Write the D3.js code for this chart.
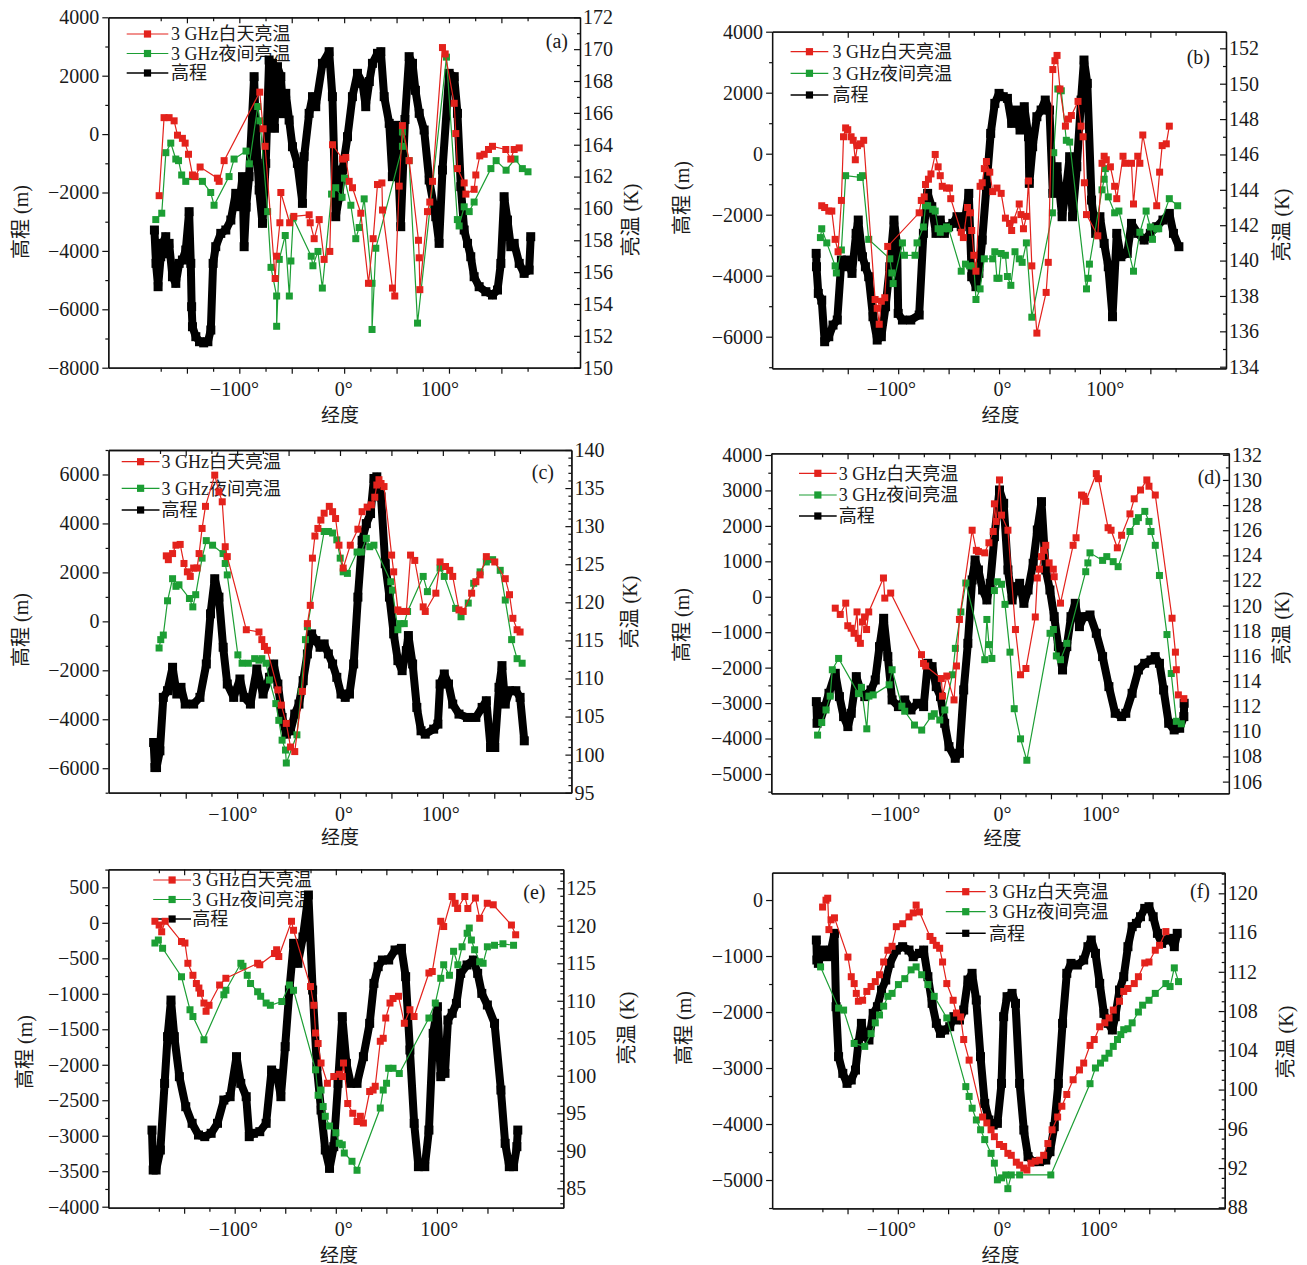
<!DOCTYPE html>
<html><head><meta charset="utf-8">
<script src="https://cdn.jsdelivr.net/npm/d3@7"></script>
<style>
body{margin:0;background:#fff}
svg text{font-family:"Liberation Serif","Noto Sans CJK SC",serif;fill:#1a1a1a}
</style>
</head><body>
<svg id="chart" width="1307" height="1265"></svg>
<script>
// ---------------- DATA ----------------
const seriesNames = ["3 GHz白天亮温", "3 GHz夜间亮温", "高程"];
const panelTags = ["(a)", "(b)", "(c)", "(d)", "(e)", "(f)"];
const lonTicks = [-175,-150,-125,-100,-75,-50,-25,0,25,50,75,100,125,150,175];
const lonLabels = [-100, 0, 100];

// (a)
const aDay = [[-176.5,160.8],[-171.8,165.7],[-167,165.7],[-162.2,165.5],[-159,164.6],[-154.3,164.4],[-151.7,164.1],[-148.5,163.4],[-144.7,162.1],[-142.2,162.0],[-137.4,162.6],[-120.9,161.9],[-119.3,161.7],[-114.5,163.0],[-80.5,167.3],[-77.3,165.0],[-75.4,163.9],[-65.8,155.6],[-64.5,157.0],[-61.3,159.1],[-60.4,161.0],[-52,159.1],[-48,159.5],[-33.4,159.6],[-32.4,159.1],[-28.6,158.1],[-23.8,159.3],[-19.1,156.8],[-13.7,157.3],[-11.1,164.0],[-1.6,163.1],[1.6,163.2],[4.8,161.7],[7.95,161.3],[15.9,159.7],[23.2,155.3],[27.7,158.1],[31.8,161.5],[36,161.6],[36.6,159.9],[46.1,155.0],[48.3,154.5],[52.5,161.4],[55.6,165.2],[62,163.0],[70.9,158.0],[71.6,156.9],[72.2,154.9],[79.5,159.8],[81.7,160.4],[84.3,161.7],[93.8,170.1],[96.4,169.7],[105,166.6],[106.5,164.7],[108.1,162.5],[114.5,161.6],[116.1,160.9],[124,161.2],[125.6,162.1],[129.4,163.3],[133.6,163.4],[137.7,163.7],[141.5,163.9],[154.2,163.7],[159,163.1],[162.2,163.7],[167,163.8]];
const aNight = [[-179.7,159.3],[-174,159.7],[-170.1,163.5],[-165.4,164.1],[-160.6,163.1],[-158,163.0],[-155,162.1],[-151.1,161.7],[-144.7,162.0],[-135.2,161.7],[-127.3,161.0],[-124.1,160.2],[-109.8,162.0],[-105,163.1],[-93.6,163.6],[-90.4,162.8],[-82.5,166.4],[-80.3,165.5],[-73,159.8],[-69.8,156.3],[-64.4,154.5],[-64.4,152.6],[-61.9,156.8],[-56.2,158.3],[-52.3,154.5],[-50.8,156.7],[-48.6,159.4],[-31.4,157.0],[-29.8,156.4],[-25,157.3],[-20.8,155.0],[-12,160.9],[-8,161.3],[-2,160.7],[0.3,161.9],[6.4,160.2],[11.1,158.1],[14.3,158.8],[19.1,160.6],[26.6,155.3],[26.6,152.4],[30.2,157.5],[55.6,163.9],[55.6,164.8],[62,163.0],[70,152.8],[97.6,169.5],[108,159.3],[109.7,158.9],[114.5,160.1],[119.3,159.8],[124,160.4],[140,162.5],[145,163.0],[154.5,162.4],[163,163.1],[170,162.5],[175.4,162.3]];
const aElev = [[-181,-3285],[-179.5,-4427],[-177.5,-5226],[-175,-4200],[-173.3,-3742],[-170.2,-3513],[-168.5,-4100],[-167,-3742],[-163.8,-4884],[-160.6,-5112],[-157.4,-4427],[-154.3,-4313],[-151.1,-3970],[-147.9,-2657],[-146.3,-4427],[-145.5,-5911],[-144.7,-6596],[-141.5,-6938],[-138,-7110],[-134,-7150],[-130,-7110],[-127.2,-6710],[-125,-4427],[-122.5,-3856],[-117.7,-3400],[-112.9,-3285],[-108.1,-2943],[-103.4,-2029],[-100.2,-2486],[-97,-1458],[-95.4,-3856],[-93.5,-2500],[-90.7,-1458],[-85.9,1967],[-84.3,140],[-81.1,-1915],[-77.9,-3057],[-74.8,-1002],[-71.6,2538],[-68.4,2423],[-66.5,200],[-63.6,2309],[-60.4,1967],[-58,700],[-55.7,1396],[-52.5,482],[-49.3,-431],[-44.6,-1002],[-39.8,-2372],[-38.2,-774],[-33.4,711],[-30.2,1282],[-27.1,939],[-20.7,2423],[-14.3,2823],[-11.2,1282],[-8,-2829],[-4.8,-2144],[-1.6,-1230],[3.2,-88],[7.9,1282],[12.7,2081],[17.5,1738],[20.6,939],[24,1800],[27,2423],[31.8,2766],[35,2823],[38.2,1282],[43,368],[46,-1458],[49,300],[52,-1458],[54,-3171],[58,500],[62,2652],[65.2,2423],[68,1500],[71.6,711],[76.3,140],[81.1,-1572],[87.4,-2829],[90.6,-3742],[93.8,-1230],[100.2,2081],[105,1967],[108.1,711],[111.3,-1801],[114.5,-3285],[117.7,-3742],[120.8,-4199],[124,-4884],[128.8,-5226],[135.2,-5397],[141.5,-5512],[146.3,-5340],[149.5,-4427],[152.6,-2144],[155.8,-2943],[159,-3856],[162.2,-3742],[167,-4427],[171.7,-4770],[176.5,-4656],[178,-3513]];

// (b)
const bDay = [[-175.8,143.1],[-172.9,143.0],[-168.8,142.8],[-165.8,142.8],[-162.5,141.2],[-159.6,140.5],[-156.3,143.4],[-154.2,147.0],[-152.1,147.5],[-150,147.4],[-146.7,147.0],[-144.6,146.8],[-142.5,145.7],[-140.4,146.5],[-137.5,146.6],[-134.2,146.8],[-122.9,137.8],[-120.8,137.3],[-118.8,136.4],[-116.7,137.7],[-113.3,137.9],[-110.4,140.8],[-79.2,142.7],[-77.1,143.4],[-74.2,143.6],[-72.9,144.3],[-70,144.6],[-67.5,144.9],[-63.3,146.0],[-60.4,145.3],[-58.3,144.8],[-56.3,144.2],[-52.1,144.1],[-49.2,144.1],[-47.9,143.5],[-37.5,141.6],[-35.4,141.3],[-31.3,143.0],[-28.3,142.7],[-27.1,141.7],[-25,140.3],[-22.9,139.4],[-18.8,144.2],[-16.7,144.4],[-14.6,145.2],[-12.5,145.6],[-9.2,145.0],[-6.3,143.9],[-2.1,144.1],[2.1,143.8],[6.3,142.4],[10.4,142.1],[12.5,141.7],[14.6,142.3],[20,143.2],[21.7,142.6],[24.2,141.8],[27.1,142.5],[29.2,144.5],[32.5,139.7],[37.5,135.9],[46.7,138.2],[48.8,139.9],[53.3,150.8],[55.4,151.3],[57.5,151.6],[60.4,149.7],[65.8,147.6],[68.8,148.0],[71.7,148.2],[78.3,149.0],[81.3,147.6],[83.3,147.0],[84.6,144.4],[86.7,142.6],[97.9,141.4],[102.1,145.5],[104.2,145.9],[106.3,145.7],[110.4,145.3],[114.6,144.2],[116.7,143.5],[122.9,145.9],[125,145.5],[131.3,145.5],[133.3,143.2],[137.5,145.9],[139.6,145.5],[142.5,147.1],[156.3,143.1],[159.2,145.0],[161.7,146.5],[165.8,146.6],[168.8,147.6]];
const bNight = [[-177.1,141.3],[-175.8,141.8],[-170.8,141.0],[-162.5,139.7],[-161.3,139.3],[-156.3,140.6],[-152.1,144.8],[-137.5,144.7],[-135.4,144.8],[-129.2,141.2],[-108.3,140.1],[-106.3,139.3],[-105,138.7],[-95.8,141.0],[-93.8,140.3],[-83.3,140.3],[-81.3,141.0],[-75,141.9],[-72.9,143.1],[-70.8,143.1],[-65.8,142.9],[-63.3,142.8],[-60.4,141.8],[-58.3,141.6],[-55,141.8],[-52.1,141.9],[-50,141.8],[-37.5,139.4],[-33.3,139.8],[-29.2,139.7],[-25,139.7],[-22.9,137.8],[-18.8,138.4],[-14.6,140.1],[-6.3,140.1],[-4.2,140.5],[-2.1,139.0],[0,139.0],[2.1,140.4],[6.3,140.3],[8.3,139.1],[11.7,138.6],[15.8,140.5],[20,140.1],[22.9,139.9],[27.1,141.0],[32.5,136.8],[52.9,142.7],[54.2,146.1],[58.3,149.7],[61.7,149.6],[66.7,146.8],[70,146.7],[86.7,138.4],[88.3,139.0],[89.6,139.8],[102.1,144.0],[104.2,144.6],[105.4,145.2],[108.3,143.6],[114.6,142.7],[118.8,142.8],[133.3,139.4],[139.6,141.6],[145.8,142.8],[150,141.9],[152.1,141.2],[156.3,141.8],[158.3,141.8],[168.8,143.5],[177.1,143.1]];
const bElev = [[-181.3,-3268],[-181,-3706],[-179.2,-4580],[-175.8,-4799],[-172.9,-6165],[-168.8,-6001],[-164.6,-5618],[-160.4,-5454],[-156.3,-3487],[-152.1,-3706],[-150,-3487],[-145.8,-3924],[-141.7,-2612],[-139.6,-2175],[-135.4,-3378],[-132.5,-3706],[-129.2,-4033],[-125,-5345],[-120.8,-6110],[-116.7,-6001],[-112.5,-5017],[-108.3,-3706],[-104.2,-2175],[-101,-3000],[-100,-5236],[-95.8,-5454],[-87.5,-5454],[-79.2,-5290],[-75,-2612],[-70.8,-1301],[-66.7,-1738],[-62.5,-2612],[-58.3,-2175],[-54.2,-2612],[-50,-2394],[-45.8,-2284],[-41.7,-2066],[-37.5,-2394],[-33.3,-2066],[-30,-1301],[-27.1,-4033],[-22.9,-4361],[-20,-3924],[-16.7,-2831],[-12.5,-1082],[-8.3,666],[-4.2,1650],[0,1978],[4.2,1869],[8.3,1814],[12.5,994],[16.7,1431],[20.8,776],[25,1541],[29.2,557],[30,-973],[33.3,229],[37.5,1213],[41.7,1431],[45.8,1759],[50,1431],[53.3,-1301],[57.5,-427],[62.5,-2066],[66.7,-1082],[70,-99],[72.9,-2066],[77.1,-427],[81.3,1759],[84.2,3071],[87.5,2306],[91.7,-1520],[95.8,-2612],[100,-2066],[104.2,-2940],[108.3,-3706],[112.5,-5345],[116.7,-2612],[120.8,-3378],[127.1,-3268],[131.3,-2284],[137.5,-2612],[143.8,-2831],[150,-2612],[156.3,-2394],[162.5,-2175],[168.8,-1957],[172.9,-2612],[178.3,-3050]];

// (c)
const cDay = [[-168.9,126.1],[-166.9,125.6],[-162.8,126.4],[-159.5,127.5],[-155.4,127.6],[-151.7,125.1],[-148.4,124.0],[-145.6,123.4],[-142.3,124.5],[-139,124.5],[-137,126.4],[-134.1,129.7],[-130.8,132.6],[-121.8,136.7],[-117.7,134.5],[-114.5,133.2],[-111.6,127.3],[-109.6,126.0],[-91.1,116.4],[-78.8,116.1],[-76,115.1],[-73.5,114.2],[-70.6,113.7],[-60.4,108.5],[-57.1,106.5],[-52.2,104.1],[-48.1,101.0],[-44,100.4],[-36.6,108.3],[-31.7,117.2],[-28.9,119.6],[-26.8,125.8],[-24.4,128.7],[-21.5,129.7],[-18.6,130.8],[-15.4,131.7],[-10.4,132.6],[-7.2,131.9],[-4.3,131.0],[-1,127.5],[3.1,124.5],[10,127.5],[17.4,129.6],[21.5,131.9],[26.4,132.5],[30.5,132.8],[33.8,133.8],[35.8,135.4],[37.9,136.1],[39.9,135.6],[42.8,135.2],[50.2,126.2],[52.2,124.0],[56.3,119.0],[58.4,118.8],[64.5,118.8],[68.6,126.2],[72.7,125.5],[80.9,119.4],[82.9,118.8],[93.2,121.2],[97.3,125.3],[102.6,124.7],[106.7,124.2],[109.6,123.4],[115.7,119.0],[119.8,118.8],[128,121.2],[132.1,122.7],[136.2,123.6],[142.3,126.0],[150.5,125.3],[160.7,123.1],[164.8,121.0],[168.1,117.9],[172.2,116.4],[175.1,116.1]];
const cNight = [[-175.9,114.0],[-174.3,115.1],[-171.8,115.7],[-167.7,120.2],[-162.8,123.1],[-159.5,122.1],[-156.6,122.3],[-146.4,120.5],[-143.1,119.4],[-140.3,121.0],[-134.1,125.8],[-130,128.1],[-123.9,127.5],[-113.7,126.4],[-111.6,125.1],[-109.6,123.6],[-99.3,113.1],[-95.2,112.0],[-89.1,112.0],[-83,112.6],[-78.8,112.4],[-76,112.6],[-71.9,112.0],[-68.6,109.8],[-62.4,106.7],[-59.5,104.5],[-56.3,101.9],[-53,100.6],[-52.2,98.9],[-41.9,102.6],[-37.8,108.3],[-33.6,115.1],[-31.7,116.8],[-15.4,129.3],[-11.3,129.3],[-7.2,129.1],[-3.1,128.2],[0.2,125.8],[3.1,124.0],[7.2,123.8],[16.6,126.6],[20.7,126.6],[25.6,128.4],[28.9,127.3],[33,127.5],[49.4,122.7],[51,121.6],[56.3,116.4],[58.4,117.2],[62.5,117.2],[65.7,118.8],[80.9,123.4],[85,121.4],[97.3,124.5],[101.4,123.4],[112.4,119.2],[117.7,118.1],[124.7,119.9],[130,122.5],[136.2,124.0],[142.3,125.3],[148.4,125.6],[155.8,124.2],[160.7,120.3],[166.9,115.1],[172.2,112.6],[177.1,112.0]];
const cElev = [[-181.2,-4949],[-180,-5973],[-178.4,-5973],[-175.1,-5290],[-171.8,-3106],[-167.7,-2833],[-162.8,-1877],[-158.7,-2969],[-154.6,-2696],[-150.5,-3379],[-142.3,-3379],[-136.2,-3106],[-130,-1741],[-125.9,307],[-121.8,1741],[-117.7,990],[-113.6,-1058],[-109.6,-2560],[-103.4,-3106],[-97.3,-2355],[-93.2,-3106],[-87.1,-3379],[-80.9,-1945],[-74.8,-2969],[-68.6,-2287],[-64.5,-1741],[-60.4,-2560],[-56.3,-3925],[-52.2,-4608],[-48.1,-4471],[-44,-3789],[-39.9,-3379],[-35.8,-2423],[-31.7,-1331],[-27.6,-512],[-23.5,-785],[-19.4,-1058],[-15.4,-922],[-11.3,-1331],[-7.2,-1741],[-3.1,-2287],[1,-2969],[5.1,-3106],[9.2,-2969],[13.3,-1741],[17.4,990],[21.5,3311],[25.6,3993],[29.7,4403],[33,5836],[35.8,5904],[39.9,5085],[44,2355],[48.1,990],[52.2,-512],[56.3,-1604],[60.4,-2014],[64.5,-1194],[66.5,-580],[70.6,-1741],[74.7,-3516],[78.8,-4471],[82.9,-4608],[91.1,-4403],[95.2,-4198],[97.3,-2560],[101.4,-2150],[105.5,-2560],[109.6,-3379],[115.7,-3789],[123.9,-3925],[132.1,-3925],[138.2,-3516],[142.3,-3243],[146.4,-5153],[150.5,-5153],[154.6,-2696],[157.5,-1809],[160.7,-3379],[164.8,-2833],[171,-2833],[175.1,-3106],[179.2,-4881]];

// (d)
const dDay = [[-162.1,119.8],[-157.2,119.3],[-151.8,120.2],[-149.8,118.4],[-146.5,118.2],[-143.6,117.8],[-140.7,119.5],[-139.5,117.4],[-137.4,117.0],[-135.4,118.7],[-133.3,119.1],[-131.3,118.1],[-129.2,119.5],[-114.7,122.2],[-113.4,120.6],[-107.6,121.0],[-77.3,116.1],[-75.3,115.4],[-73.2,115.2],[-57.8,114.2],[-56.6,112.8],[-52.4,114.4],[-45.3,112.5],[-42.9,115.2],[-40,118.9],[-27.5,126.0],[-23.4,124.4],[-21.3,124.3],[-15.1,124.2],[-11,125.0],[-6.8,125.9],[-5.6,128.1],[-3.9,126.7],[-0.6,130.0],[1.4,127.2],[7.7,126.0],[15.1,118.1],[20.1,114.5],[25.4,115.0],[34.6,119.1],[36.6,122.2],[38.7,122.9],[40.7,123.9],[42.8,124.4],[44.9,124.8],[48.2,123.4],[52.3,122.9],[53.2,122.3],[59.4,120.2],[71.8,124.8],[74.7,125.4],[80.1,128.8],[82.2,128.7],[84.2,128.3],[94.6,130.5],[96.7,130.1],[106.2,126.2],[109.1,126.0],[115.3,124.6],[119.5,125.6],[127.7,127.3],[131.9,128.5],[138.1,129.2],[144.3,130.0],[146.4,129.5],[152.6,128.8],[169.1,119.0],[172.4,116.3],[173.3,114.9],[175.3,112.9],[180.7,112.6]];
const dNight = [[-179.5,109.7],[-175.4,110.7],[-171.2,111.7],[-167.1,112.8],[-165,114.9],[-158.8,115.8],[-139.3,113.0],[-136.4,113.5],[-131.1,110.2],[-129,112.8],[-124.8,112.9],[-109.1,113.7],[-106.2,114.9],[-96.6,112.0],[-93.8,111.6],[-84.2,110.5],[-77.1,110.1],[-67.6,111.2],[-64.7,111.4],[-59.3,110.9],[-54.4,111.7],[-46.9,114.5],[-44,116.6],[-38.6,119.5],[-33.7,121.8],[-15.1,115.7],[-13,118.9],[-10.9,116.9],[-8.1,115.8],[-5.6,121.2],[-2.7,121.9],[1.4,121.7],[4.8,120.1],[9.7,116.3],[13.9,111.8],[20.1,109.4],[26.3,107.7],[49.1,117.8],[52.4,118.1],[55.3,116.0],[59.4,115.7],[65.6,117.0],[84.2,122.7],[86.3,123.4],[88.4,124.2],[100.8,123.6],[104.9,123.9],[111.2,123.5],[116.1,123.1],[127.7,125.9],[133.9,126.7],[136,127.0],[142.3,127.5],[146.4,126.7],[148.4,125.9],[152.6,124.8],[156.7,122.4],[164.1,117.7],[168.3,114.6],[173.3,110.8],[178.2,110.6]];
const dElev = [[-180.7,-2959],[-180,-3570],[-176.6,-3476],[-172.4,-3100],[-168.3,-2724],[-162.1,-2160],[-158,-2818],[-153.9,-3382],[-149.7,-3664],[-146.4,-3288],[-141.4,-2254],[-137.3,-2630],[-133.1,-2818],[-126.9,-2630],[-122.8,-2348],[-118.6,-1407],[-114.5,-608],[-110.4,-1689],[-106.2,-2912],[-100,-3100],[-93.8,-2912],[-87.6,-3194],[-81.4,-3006],[-75.2,-3100],[-71.1,-1878],[-66.9,-1972],[-62.8,-2536],[-58.6,-2818],[-54.5,-3570],[-50.3,-4229],[-44.1,-4558],[-40,-4417],[-35.8,-2630],[-31.7,-1313],[-27.5,474],[-24.6,1038],[-21.3,756],[-17.2,191],[-13,-91],[-9.7,380],[-5.6,1696],[-0.6,3013],[3.5,2637],[7.7,756],[11.8,-91],[15.9,285],[19.2,380],[23.4,-185],[27.5,191],[32.5,944],[36.6,1884],[40.7,2684],[44.9,756],[49,191],[53.2,-561],[57.3,-1407],[61.4,-2066],[65.6,-1407],[69.7,-561],[73.9,-185],[78,-843],[82.2,-561],[88.4,-514],[94.6,-1031],[100.8,-1689],[107,-2536],[113.2,-3288],[119.5,-3382],[123.6,-3288],[129.8,-2724],[136,-2066],[142.2,-1878],[148.4,-1784],[152.5,-1689],[156.7,-1878],[160.8,-2630],[165.8,-3570],[171.2,-3758],[176.6,-3711],[180.7,-3382],[181,-3006]];

// (e)
const eDay = [[-178.9,120.6],[-174.7,120.1],[-172.2,119.2],[-168.8,120.6],[-152.6,117.9],[-149.2,117.7],[-146.3,115.0],[-141.3,113.4],[-137.9,112.3],[-135.4,111.7],[-133.8,111.0],[-130.4,109.7],[-128.3,108.6],[-125.4,109.4],[-114.9,112.1],[-108.7,113.0],[-77.3,115.0],[-75.2,114.8],[-60.6,116.3],[-58.5,116.8],[-56.4,115.9],[-43.8,120.6],[-41.8,119.4],[-25,111.9],[-21.7,109.4],[-20,105.7],[-17.5,104.3],[-14.6,101.7],[-8.3,99.0],[-2,99.9],[3.4,100.2],[6.4,99.9],[7.6,101.7],[11.8,96.3],[16.8,95.0],[21,93.9],[24.3,94.6],[27.3,93.7],[33.5,97.9],[36.9,98.1],[39,98.6],[44,104.6],[46.9,105.0],[49.4,107.7],[53.6,109.7],[56.6,110.3],[62,110.6],[67.8,107.0],[73.3,108.8],[77.4,107.9],[92.1,113.7],[95.4,113.9],[103.8,120.6],[106.7,119.9],[115.1,123.9],[118,123.0],[120.5,122.3],[127.6,123.9],[130.6,122.3],[138.1,123.7],[142.3,121.0],[149.8,123.0],[155.7,122.8],[173.7,120.1],[177.9,118.8]];
const eNight = [[-178.9,117.7],[-175.5,118.1],[-171.3,117.0],[-152.6,113.2],[-144.2,108.8],[-141.3,107.9],[-130.4,104.8],[-110.7,110.8],[-108.7,111.4],[-93.9,115.0],[-91.8,114.6],[-87.6,113.4],[-84.3,112.3],[-77.3,111.2],[-74.3,110.6],[-68.9,109.7],[-64.7,109.4],[-53.4,109.9],[-45.9,112.1],[-41.8,111.4],[-20,100.8],[-17.5,97.4],[-14.6,98.1],[-12.5,95.9],[-10.4,94.6],[-6.2,93.3],[0.1,92.4],[3.4,91.0],[6.4,90.8],[8.4,89.7],[16,88.6],[21,87.4],[44,95.7],[46.9,98.1],[50.2,99.0],[52.3,101.0],[56.6,101.0],[62.8,100.3],[92.1,107.7],[98.4,109.7],[103.8,113.0],[106.7,114.8],[112.4,113.4],[116.5,116.6],[120.7,114.8],[124.9,117.2],[129.9,119.0],[132,119.7],[134.1,118.1],[137.3,116.8],[142.3,115.2],[145.7,115.0],[149.9,117.2],[157,117.4],[165.3,117.6],[175.8,117.4]];
const eElev = [[-181.8,-2920],[-180.6,-3483],[-177.7,-3483],[-173.5,-3201],[-169.3,-2262],[-166.4,-1604],[-163,-1088],[-159.7,-1604],[-154.7,-2168],[-148.4,-2591],[-142.1,-2825],[-135.8,-2990],[-129.6,-3013],[-123.3,-2966],[-117,-2825],[-110.7,-2497],[-104.5,-2450],[-98.2,-1886],[-94,-2262],[-88.6,-2450],[-85.6,-3013],[-81.5,-2966],[-75.2,-2943],[-68.9,-2825],[-63.5,-2074],[-58.5,-2121],[-54.3,-2450],[-50.1,-1745],[-45.9,-947],[-41.7,-289],[-37.5,-571],[-32.5,-200],[-27.1,392],[-22.9,-947],[-18.7,-2027],[-14.6,-2638],[-10.4,-3201],[-6.2,-3460],[-2,-3154],[2.2,-2262],[6.4,-1322],[10.5,-1980],[14.7,-2262],[21,-2262],[27.3,-1886],[33.5,-1416],[37.7,-853],[41.9,-618],[46.1,-524],[52.3,-524],[58.6,-383],[64.9,-360],[69.1,-759],[73.3,-1792],[77.5,-2825],[81.7,-3436],[88,-3436],[92.1,-2920],[96.3,-1557],[100.5,-1182],[103.8,-2168],[108,-2121],[110.9,-1369],[115.1,-1275],[119.3,-1135],[123.5,-712],[129.8,-594],[136.1,-524],[140.3,-712],[144.4,-994],[149.9,-1158],[157,-1416],[163.3,-2356],[167.5,-3107],[171.6,-3436],[175.8,-3436],[179.1,-3154],[180,-2920]];

// (f)
const fDay = [[-174.8,118.6],[-171.4,119.3],[-169.7,119.5],[-168.5,116.3],[-166.4,117.3],[-163,117.5],[-149.6,113.5],[-146.3,111.5],[-143.4,110.8],[-141.3,109.8],[-139.2,109.0],[-135,109.1],[-130.8,110.0],[-126.6,110.5],[-122.4,111.0],[-118.2,111.7],[-114.1,113.0],[-109.9,114.2],[-105.7,114.6],[-101.5,116.6],[-95.2,116.9],[-88.9,117.6],[-84.7,118.0],[-81.8,118.8],[-78.5,118.1],[-68,115.6],[-65.1,115.2],[-61.7,114.7],[-58.4,114.4],[-55.5,113.0],[-51.3,110.8],[-45,109.1],[-41.7,107.8],[-37.5,107.4],[-34.5,105.1],[-29.1,103.0],[-15.7,97.2],[-11.5,96.6],[-7.3,95.9],[-4,95.2],[1,94.4],[5.2,94.2],[9.4,93.5],[12.8,93.3],[17.8,92.6],[21.1,92.3],[25.3,92.0],[28.3,91.8],[32.4,92.5],[36.6,92.7],[40.8,92.8],[45,93.3],[49.2,94.5],[53.4,95.9],[58.9,97.2],[63.1,98.3],[68,99.5],[74.3,101.0],[80.6,102.0],[84.8,102.7],[91.1,104.5],[95.3,105.1],[100.7,106.4],[105.8,106.8],[110,107.3],[114.2,108.1],[120.4,109.0],[124.6,110.0],[128.8,110.3],[135.1,110.8],[139.2,111.5],[145.5,112.9],[149.7,113.0],[156,114.2],[160.2,114.7],[166.5,116.1]];
const fNight = [[-176.8,112.5],[-158.9,108.3],[-153.9,108.1],[-143.4,104.7],[-132.9,104.4],[-126.6,105.7],[-122.4,106.8],[-118.2,107.6],[-114.1,108.5],[-109.9,109.5],[-105.7,109.8],[-99.4,110.7],[-93.1,111.3],[-86.8,112.2],[-81.8,112.5],[-76.3,111.7],[-70.1,110.7],[-63.8,109.5],[-51.3,107.3],[-32.4,100.3],[-29.1,99.3],[-26.1,98.1],[-21.9,96.9],[-17.7,95.9],[-13.6,94.9],[-7.3,93.5],[-4,92.5],[-1,90.8],[3.1,91.0],[7.3,91.3],[9.4,89.9],[12.8,91.3],[21.1,91.3],[52.1,91.3],[91.1,100.6],[96.5,102.2],[101.5,102.7],[105.8,103.2],[110,103.7],[114.2,104.4],[118.4,105.1],[121.7,105.6],[124.6,106.1],[128.8,106.2],[133,106.8],[139.2,107.9],[143.4,108.6],[149.7,109.1],[156,109.8],[166.5,110.8],[170.7,110.5],[174.9,112.4],[179.1,111.0]];
const fElev = [[-181,-714],[-180.5,-1071],[-179,-1131],[-174.8,-893],[-170.6,-1012],[-166.4,-893],[-163,-595],[-161.4,-1905],[-158.9,-2797],[-154.7,-3095],[-150.5,-3274],[-146.3,-3214],[-142.1,-3036],[-139.2,-2559],[-136.2,-2202],[-132.9,-2440],[-128.7,-2500],[-124.5,-2024],[-120.3,-1905],[-116.2,-1607],[-112,-1428],[-107.8,-1131],[-101.5,-893],[-95.2,-833],[-88.9,-893],[-84.7,-1012],[-78.5,-952],[-74.3,-893],[-70.1,-1369],[-65.9,-1845],[-61.7,-2202],[-57.6,-2381],[-53.4,-2321],[-48.4,-2262],[-44.2,-2083],[-38.7,-2143],[-34.5,-1964],[-30.3,-1428],[-26.2,-1309],[-22,-1786],[-17.8,-2797],[-13.6,-3631],[-9.4,-3928],[-5.2,-4018],[-1,-3988],[3.1,-3274],[5.2,-2083],[8.6,-1726],[13.6,-1667],[17,-1845],[21.1,-3274],[25.3,-4107],[29.5,-4583],[34.5,-4672],[40.8,-4672],[47.1,-4643],[51.3,-4494],[55.5,-4047],[59.6,-3274],[63.8,-2202],[68,-1309],[72.2,-1131],[78.5,-1161],[84.8,-1071],[89,-833],[92.3,-714],[96.5,-952],[100.7,-1488],[104.9,-2024],[109.1,-2202],[113.3,-2321],[116.2,-2083],[120.4,-1607],[124.6,-1369],[128.8,-833],[133,-476],[137.2,-417],[141.3,-298],[145.5,-149],[149.7,-119],[153.9,-298],[158.1,-595],[162.3,-774],[166.5,-714],[170.7,-684],[174.9,-833],[177.8,-595]];

// tick values
const aElevTicks = [-8000,-6000,-4000,-2000,0,2000,4000];
const bElevTicks = [-6000,-4000,-2000,0,2000,4000];
const cElevTicks = [-6000,-4000,-2000,0,2000,4000,6000];
const dElevTicks = [-5000,-4000,-3000,-2000,-1000,0,1000,2000,3000,4000];
const eElevTicks = [-4000,-3500,-3000,-2500,-2000,-1500,-1000,-500,0,500];
const fElevTicks = [-5000,-4000,-3000,-2000,-1000,0];
const aTbTicks = [150,152,154,156,158,160,162,164,166,168,170,172];
const bTbTicks = [134,136,138,140,142,144,146,148,150,152];
const cTbTicks = [95,100,105,110,115,120,125,130,135,140];
const dTbTicks = [106,108,110,112,114,116,118,120,122,124,126,128,130,132];
const eTbTicks = [85,90,95,100,105,110,115,120,125];
const fTbTicks = [88,92,96,100,104,108,112,116,120];

// ---------------- LAYOUT ----------------
const panels = [
 {tag:panelTags[0], day:aDay, night:aNight, elev:aElev, elevTicks:aElevTicks, elevMinorStep:1000, tbTicks:aTbTicks, tbMinorStep:1,
  frame:[108.3,580,17.3,367.7], elevDomain:[-8000,4000], tbDomain:[150,172],
  legend:{x0:126.7,x1:168.3,tx:171,ys:[34,53.5,73]}, tagPos:[568,48], ylab:[21,222], y2lab:[631,220], xlab:[340,415], lblDx:[-5,-0.4,-9]},
 {tag:panelTags[1], day:bDay, night:bNight, elev:bElev, elevTicks:bElevTicks, elevMinorStep:1000, tbTicks:bTbTicks, tbMinorStep:1,
  frame:[772.1,1226,31.7,368.3], elevDomain:[-7036,4000], tbDomain:[133.91,152.94],
  legend:{x0:790.6,x1:828.3,tx:832.5,ys:[51.7,73.3,95]}, tagPos:[1210,64], ylab:[681.5,198], y2lab:[1281.5,225], xlab:[1000.4,415], lblDx:[-6.9,3.5,5.4]},
 {tag:panelTags[2], day:cDay, night:cNight, elev:cElev, elevTicks:cElevTicks, elevMinorStep:1000, tbTicks:cTbTicks, tbMinorStep:1,
  frame:[108.6,571.4,450,792.7], elevDomain:[-7000,7000], tbDomain:[95,140],
  legend:{x0:121.7,x1:159.5,tx:161.6,ys:[461.7,488.3,510]}, tagPos:[554,479], ylab:[21,630], y2lab:[629.5,612], xlab:[340,837], lblDx:[-4.2,4,-2.2]},
 {tag:panelTags[3], day:dDay, night:dNight, elev:dElev, elevTicks:dElevTicks, elevMinorStep:500, tbTicks:dTbTicks, tbMinorStep:1,
  frame:[771.3,1228.9,453.3,793.3], elevDomain:[-5546,4048], tbDomain:[105.07,132.12],
  legend:{x0:799,x1:836.7,tx:838.8,ys:[473.3,495,516]}, tagPos:[1221,484], ylab:[681.5,625], y2lab:[1281.5,628], xlab:[1002.5,838], lblDx:[-2.9,2.4,-0.8]},
 {tag:panelTags[4], day:eDay, night:eNight, elev:eElev, elevTicks:eElevTicks, elevMinorStep:250, tbTicks:eTbTicks, tbMinorStep:1,
  frame:[108.3,563.3,869.3,1207.7], elevDomain:[-4014,754], tbDomain:[82.41,127.53],
  legend:{x0:153.2,x1:191,tx:192.2,ys:[880,899.5,919]}, tagPos:[545.5,899], ylab:[25,1052], y2lab:[627.4,1028], xlab:[339,1255], lblDx:[-1.4,8,2.3]},
 {tag:panelTags[5], day:fDay, night:fNight, elev:fElev, elevTicks:fElevTicks, elevMinorStep:500, tbTicks:fTbTicks, tbMinorStep:1,
  frame:[772.1,1224.7,872.7,1208.3], elevDomain:[-5505,488], tbDomain:[87.9,122.1],
  legend:{x0:945.8,x1:985.7,tx:989,ys:[891.7,911.7,933.3]}, tagPos:[1210,898], ylab:[683.6,1028], y2lab:[1285.7,1042], xlab:[1000.4,1255], lblDx:[-6.5,4.1,0]}
];

const RED = "#e3221c", GREEN = "#1c9e34", BLACK = "#000";
const fmt = v => (v < 0 ? "\u2212" : "") + Math.abs(v);
const svg = d3.select("#chart");

panels.forEach(p => {
  const [L, R, T, B] = p.frame;
  const g = svg.append("g");
  const x = d3.scaleLinear([-225, 225], [L, R]);
  const yE = d3.scaleLinear(p.elevDomain, [B, T]);
  const yT = d3.scaleLinear(p.tbDomain, [B, T]);

  // legend (drawn beneath data)
  const lg = g.append("g");
  const colors = [RED, GREEN, BLACK];
  seriesNames.forEach((name, i) => {
    const y = p.legend.ys[i];
    lg.append("line").attr("x1", p.legend.x0).attr("x2", p.legend.x1).attr("y1", y).attr("y2", y)
      .attr("stroke", colors[i]).attr("stroke-width", i === 2 ? 1.6 : 1.2);
    const cx = (p.legend.x0 + p.legend.x1) / 2;
    lg.append("rect").attr("x", cx - 3.6).attr("y", y - 3.6).attr("width", 7.2).attr("height", 7.2).attr("fill", colors[i]);
    lg.append("text").attr("x", p.legend.tx).attr("y", y).attr("dy", "0.35em")
      .style("font-size", "18px").text(name);
  });

  // elevation series (thick black band of squares)
  const lineE = d3.line().x(d => x(d[0])).y(d => yE(d[1]));
  g.append("path").attr("d", lineE(p.elev)).attr("fill", "none").attr("stroke", BLACK)
    .attr("stroke-width", 8).attr("stroke-linejoin", "round");
  g.append("g").selectAll("rect").data(p.elev).join("rect")
    .attr("x", d => x(d[0]) - 4.5).attr("y", d => yE(d[1]) - 4.5).attr("width", 9).attr("height", 9).attr("fill", BLACK);

  // TB series
  const lineT = d3.line().x(d => x(d[0])).y(d => yT(d[1]));
  [[p.night, GREEN], [p.day, RED]].forEach(([data, col]) => {
    g.append("path").attr("d", lineT(data)).attr("fill", "none").attr("stroke", col).attr("stroke-width", 1.2);
    g.append("g").selectAll("rect").data(data).join("rect")
      .attr("x", d => x(d[0]) - 3.5).attr("y", d => yT(d[1]) - 3.5).attr("width", 7).attr("height", 7).attr("fill", col);
  });

  // axes
  const majorLon = lonTicks.filter(v => v % 50 === 0);
  const minorLon = lonTicks.filter(v => v % 50 !== 0);
  const styleAxis = sel => { sel.selectAll("path.domain").attr("stroke", "#111").attr("stroke-width", 1.3);
                             sel.selectAll(".tick line").attr("stroke", "#111").attr("stroke-width", 1.2); };

  g.append("g").attr("transform", `translate(0,${B})`)
    .call(d3.axisBottom(x).tickValues(majorLon).tickSize(6).tickSizeOuter(0).tickFormat(""))
    .call(styleAxis);
  g.append("g").attr("transform", `translate(0,${B})`)
    .call(d3.axisBottom(x).tickValues(minorLon).tickSize(4).tickSizeOuter(0).tickFormat(""))
    .call(styleAxis);
  g.append("g").attr("transform", `translate(0,${T})`)
    .call(d3.axisTop(x).tickValues(majorLon).tickSize(-6).tickSizeOuter(0).tickFormat(""))
    .call(styleAxis);
  g.append("g").attr("transform", `translate(0,${T})`)
    .call(d3.axisTop(x).tickValues(minorLon).tickSize(-4).tickSizeOuter(0).tickFormat(""))
    .call(styleAxis);

  lonLabels.forEach((v, i) => {
    g.append("text").attr("x", x(v) + p.lblDx[i]).attr("y", B + 21).attr("dy", "0.35em")
      .attr("text-anchor", "middle").style("font-size", "20px").text(fmt(v) + "\u00b0");
  });

  // left elevation axis
  const eMinor = d3.range(Math.ceil(p.elevDomain[0] / p.elevMinorStep) * p.elevMinorStep, p.elevDomain[1] + 1, p.elevMinorStep)
    .filter(v => !p.elevTicks.includes(v));
  g.append("g").attr("transform", `translate(${L},0)`)
    .call(d3.axisLeft(yE).tickValues(p.elevTicks).tickSize(6).tickSizeOuter(0).tickPadding(3).tickFormat(fmt))
    .call(styleAxis)
    .call(s => s.selectAll("text").style("font-size", "20px").attr("fill", "#1a1a1a").style("font-family", "Liberation Serif"));
  g.append("g").attr("transform", `translate(${L},0)`)
    .call(d3.axisLeft(yE).tickValues(eMinor).tickSize(3).tickSizeOuter(0).tickFormat(""))
    .call(styleAxis);

  // right TB axis (inward ticks)
  const tMinor = d3.range(Math.ceil(p.tbDomain[0]), p.tbDomain[1], p.tbMinorStep).filter(v => !p.tbTicks.includes(v));
  g.append("g").attr("transform", `translate(${R},0)`)
    .call(d3.axisRight(yT).tickValues(p.tbTicks).tickSize(-6).tickSizeOuter(0).tickPadding(3).tickFormat(fmt))
    .call(styleAxis)
    .call(s => s.selectAll("text").style("font-size", "20px").attr("fill", "#1a1a1a").style("font-family", "Liberation Serif"));
  g.append("g").attr("transform", `translate(${R},0)`)
    .call(d3.axisRight(yT).tickValues(tMinor).tickSize(-3).tickSizeOuter(0).tickFormat(""))
    .call(styleAxis);

  // titles
  g.append("text").attr("transform", `translate(${p.ylab[0]},${p.ylab[1]}) rotate(-90)`)
    .attr("text-anchor", "middle").attr("dy", "0.35em").style("font-size", "20px").text("高程 (m)");
  g.append("text").attr("transform", `translate(${p.y2lab[0]},${p.y2lab[1]}) rotate(-90)`)
    .attr("text-anchor", "middle").attr("dy", "0.35em").style("font-size", "20px").text("亮温 (K)");
  g.append("text").attr("x", p.xlab[0]).attr("y", p.xlab[1]).attr("dy", "0.35em")
    .attr("text-anchor", "middle").style("font-size", "19px").text("经度");
  g.append("text").attr("x", p.tagPos[0]).attr("y", p.tagPos[1])
    .attr("text-anchor", "end").style("font-size", "20px").text(p.tag);
});
</script>
</body></html>
